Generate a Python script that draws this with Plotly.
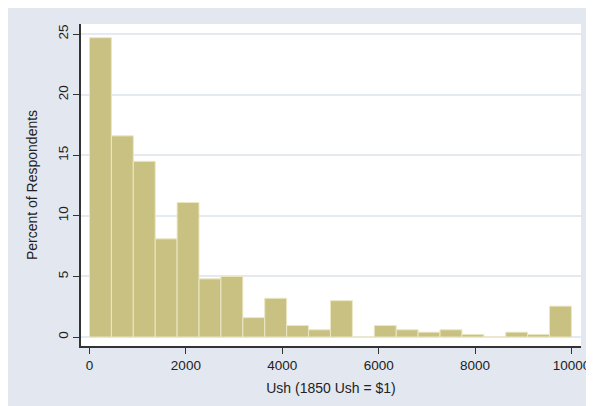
import plotly.graph_objects as go

# histogram bins (Ush, 22 equal-width bins from 0 to 10000)
bin_left = [0, 455, 909, 1364, 1818, 2273, 2727, 3182, 3636, 4091, 4545,
            5000, 5455, 5909, 6364, 6818, 7273, 7727, 8182, 8636, 9091, 9545]
bin_width = 454.5
percent = [24.7, 16.6, 14.5, 8.1, 11.1, 4.8, 5.0, 1.6, 3.2, 0.95, 0.6,
           3.0, 0.0, 0.95, 0.6, 0.4, 0.6, 0.22, 0.0, 0.4, 0.22, 2.55]

x_ticks = [0, 2000, 4000, 6000, 8000, 10000]
x_tick_labels = ["0", "2000", "4000", "6000", "8000", "10000"]
y_ticks = [0, 5, 10, 15, 20, 25]

family = "Liberation Sans, Arial, sans-serif"
tick_font = dict(family=family, size=13.5, color="#222222")
title_font = dict(family=family, size=14, color="#222222")

fig = go.Figure()

fig.add_trace(go.Bar(
    x=bin_left,
    y=percent,
    width=bin_width,
    offset=0,
    marker=dict(color="#c9c182", line=dict(color="#ebe7c3", width=1)),
    showlegend=False,
))

fig.update_layout(
    width=594,
    height=406,
    margin=dict(l=73, r=14, t=16, b=68),
    paper_bgcolor="#e2e7f0",
    plot_bgcolor="white",
    font=dict(family=family, size=13, color="#222222"),
    bargap=0.06,
    xaxis=dict(
        range=[-176, 10198],
        tickvals=x_ticks,
        ticktext=x_tick_labels,
        tickfont=tick_font,
        ticks="outside",
        ticklen=6,
        tickcolor="#333333",
        showline=True,
        linecolor="#333333",
        linewidth=1.5,
        showgrid=False,
        zeroline=False,
        title=dict(text="Ush (1850 Ush = $1)", font=title_font, standoff=11),
    ),
    yaxis=dict(
        range=[-0.74, 25.83],
        tickvals=y_ticks,
        tickangle=-90,
        tickfont=tick_font,
        ticks="outside",
        ticklen=6,
        tickcolor="#333333",
        showline=True,
        linecolor="#333333",
        linewidth=1.5,
        showgrid=True,
        gridcolor="#e4e9f2",
        gridwidth=2,
        zeroline=False,
        title=dict(text="Percent of Respondents", font=title_font, standoff=15),
    ),
)

fig.write_html("out.html")
